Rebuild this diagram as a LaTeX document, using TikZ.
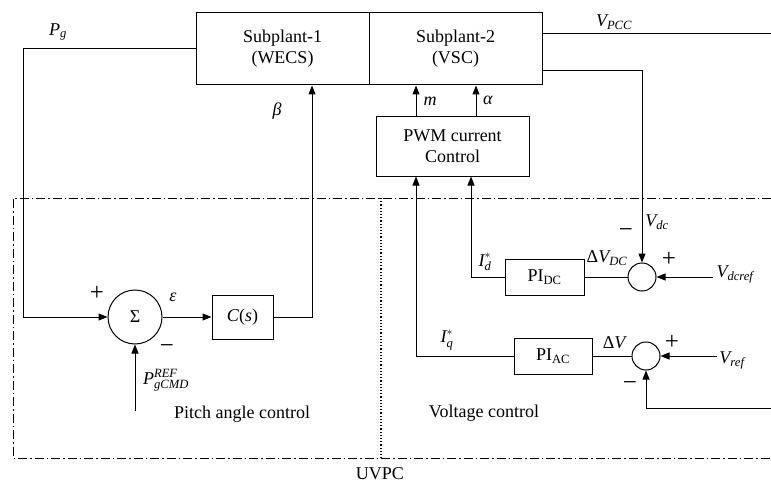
\documentclass[tikz,border=0pt]{standalone}
\usepackage{amsmath}
\usepackage{fontspec}
\setmainfont{Liberation Serif}
\usetikzlibrary{arrows.meta}

\newcommand{\vi}[1]{\textit{#1}}

\tikzset{
  blk/.style={draw,line width=1pt,align=center,inner sep=0pt},
  sumc/.style={draw,circle,line width=1pt,inner sep=0pt},
  lbl/.style={inner sep=0pt},
  sgn/.style={inner sep=0pt,font=\fontsize{25}{28}\selectfont},
  frame/.style={line width=1pt,dash pattern=on 9pt off 3pt on 1.5pt off 3pt},
}

\begin{document}
\begin{tikzpicture}[x=1pt,y=-1pt,>={Triangle[length=9pt,width=7pt]},font=\fontsize{18}{21}\selectfont,line width=1pt]
\useasboundingbox (0,0) rectangle (771,484);
% plant and inner loop
\node[blk,minimum width=173pt,minimum height=72pt] (sp1) at (282.5,49) {Subplant-1\\(WECS)};
\node[blk,minimum width=173pt,minimum height=72pt] (sp2) at (455.5,49) {Subplant-2\\(VSC)};
\node[blk,minimum width=153pt,minimum height=59pt] (pwm) at (452.5,146.5) {PWM current\\Control};
% pitch angle control
\node[sumc,minimum size=54pt,font=\fontsize{18}{20}\selectfont] (sum) at (135,317) {Σ};
\node[blk,minimum width=61pt,minimum height=44pt] (cs) at (242.5,317) {\vi{C}(\vi{s})};
% voltage control
\node[sumc,minimum size=28pt] (sdc) at (642,277) {};
\node[blk,minimum width=79pt,minimum height=36pt] (pidc) at (544.5,277) {PI\textsubscript{DC}};
\node[sumc,minimum size=28pt] (sac) at (646,356) {};
\node[blk,minimum width=78pt,minimum height=36pt] (piac) at (553,356) {PI\textsubscript{AC}};

\coordinate (pref) at (135,411);
\coordinate (vpcc) at (771,34);
\coordinate (vdcref) at (713,277);
\coordinate (vref) at (717,356);
\coordinate (vfb) at (771,408);

% signals
\draw[->] (sp1.west) -- ++(-172,0) |- (sum.west);
\draw[->] (sum.east) -- (cs.west);
\draw[->] (cs.east) -| ([xshift=29.5pt]sp1.south);
\draw[->] (pref) -- (sum.south);
\draw (vpcc -| sp2.east) -- (vpcc);
\draw[->] ([yshift=-22pt]sp2.east) -| (sdc.north);
\draw[->] (vdcref) -- (sdc.east);
\draw (sdc.west) -- (pidc.east);
\draw[->] (pidc.west) -| ([xshift=18.5pt]pwm.south);
\draw[->] (vref) -- (sac.east);
\draw (sac.west) -- (piac.east);
\draw[->] (piac.west) -| ([xshift=-36.5pt]pwm.south);
\draw[->] (vfb) -| (sac.south);
\draw[->] ([xshift=-36.5pt]pwm.north) -- ([xshift=-39.5pt]sp2.south);
\draw[->] ([xshift=23.5pt]pwm.north) -- ([xshift=20.5pt]sp2.south);

% UVPC frame
\draw[frame] (771,198) -- (13,198) -- (13,458) -- (771,458);
\draw[dotted,line width=1.2pt] (381,198) -- (381,458);

% labels
\node[lbl] (lpg) at (58,32) {$\vi{P}_{\vi{g}}$};
\node[lbl] (lbeta) at (277,111) {\vi{β}};
\node[sgn] (lplus1) at (97,293) {+};
\node[lbl] (leps) at (173,297) {\vi{ε}};
\node[sgn] (lminus1) at (167,349) {−};
\node[lbl] (lpref) at (166,380) {$\vi{P}_{\vi{gCMD}}^{\vi{REF}}$};
\node[lbl] (lpitch) at (242,414) {Pitch angle control};
\node[lbl] (lvolt) at (484,413) {Voltage control};
\node[lbl] (luvpc) at (380,474) {UVPC};
\node[lbl] (lvpcc) at (614,22) {$\vi{V}_{\vi{PCC}}$};
\node[lbl] (lm) at (430,101) {\vi{m}};
\node[lbl] (lalpha) at (488,100) {\vi{α}};
\node[lbl] (lvdc) at (657,222) {$\vi{V}_{\vi{dc}}$};
\node[sgn] (lminus2) at (626,233) {−};
\node[sgn] (lplus2) at (669,259) {+};
\node[lbl] (lvdcref) at (735,274) {$\vi{V}_{\vi{dcref}}$};
\node[lbl] (lid) at (485,262) {$\vi{I}_{\vi{d}}^{*}$};
\node[lbl] (ldvdc) at (607,258) {Δ$\vi{V}_{\vi{DC}}$};
\node[lbl] (liq) at (447,340) {$\vi{I}_{\vi{q}}^{*}$};
\node[lbl] (ldv) at (615,343) {Δ\vi{V}};
\node[sgn] (lplus3) at (672,342) {+};
\node[lbl] (lvref) at (732,360) {$\vi{V}_{\vi{ref}}$};
\node[sgn] (lminus3) at (630,386) {−};
\end{tikzpicture}
\end{document}
